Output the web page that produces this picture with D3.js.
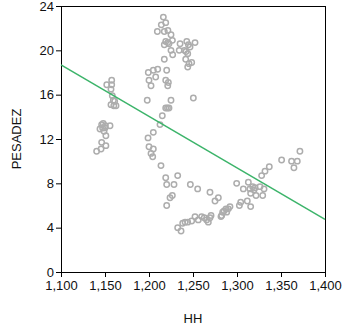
<!DOCTYPE html>
<html><head><meta charset="utf-8">
<script src="https://cdn.jsdelivr.net/npm/d3@7"></script>
<style>body{margin:0;background:#fff}svg{display:block}</style>
</head><body>
<svg id="c" width="345" height="326"></svg>
<script>
const hh = [1157.6,1152,1157.6,1156.8,1158.3,1159.5,1156.8,1160,1162.5,1161,
1146.2,1148,1150.4,1155.7,1144.3,1147.3,1148.9,1151,1146.2,1151,1145.5,1140.5,1150,
1198,1199.2,1204.9,1209.9,1200,1202.3,1207.6,1198.9,1204.9,1200,1204.9,1202.3,1204.2,1213.6,1215.1,1212.5,
1219,1222,1221.3,1220.1,1225,1219,1222.7,1221,1217.4,
1216.3,1214,1219,1209.5,1217.4,1221.5,1225,1226.6,1219,1221.3,1217.4,1222.7,1225,1226.9,1234.3,1235.3,1240.2,1242.9,1244.8,1246.6,1242.1,1244,1252.3,1241.7,1245.5,1244,1248.5,1250.4,
1219,1220.1,1228.4,1232.6,1247,1223.9,1226.5,1220.1,1255.3,1269.3,1275,1278.8,
1232.6,1236.4,1238.3,1241,1244,1248.5,1252.3,1256,1259.8,1262.8,1265.5,1267.4,1269.3,1270.5,1282.6,1283.7,1285.3,1287.5,1290.2,1292,1288.3,1281.8,
1299.6,1307.2,1302.7,1304.2,1311.7,1315.5,1312.9,1314.7,1315.5,1317.8,1320.5,1319.3,1321.6,1326.1,1329.2,1330.7,1328,1331.8,1336.7,1350.7,1362,1364.7,1368.5,1371.5];
const pesadez = [17.3,16.9,16.9,16.5,15.9,15.5,15.1,15.0,15.0,15.4,
13.3,13.4,13.2,13.2,12.9,13.0,12.7,12.3,11.7,11.4,11.1,10.9,13.0,
15.5,18.0,18.2,18.3,17.3,16.8,17.6,12.1,12.6,11.3,11.1,10.7,10.4,9.6,14.1,13.3,
17.3,17.1,16.8,18.2,15.5,14.8,14.8,14.8,19.2,
23.0,22.3,22.5,21.7,21.7,21.8,21.4,20.9,20.8,20.7,20.5,20.6,20.0,19.6,20.0,20.6,20.0,20.8,20.5,20.3,19.9,19.7,20.7,19.2,18.8,18.5,18.9,15.7,
8.5,7.9,7.9,8.7,7.9,6.7,6.9,6.0,7.5,7.2,6.4,6.7,
4.0,3.7,4.4,4.5,4.5,4.6,5.0,4.7,5.0,4.9,4.7,4.5,4.9,5.1,5.1,5.4,5.5,5.7,5.7,5.9,5.4,5.0,
8.0,7.5,6.0,6.3,6.4,5.9,8.1,7.5,7.1,7.7,7.6,7.4,6.9,7.7,6.9,7.5,8.7,9.1,9.5,10.1,10.0,9.4,10.0,10.9];
const fitX = [1100, 1400];
const fitY = [18.68, 4.75];
const xTicks = [1100,1150,1200,1250,1300,1350,1400];
const yTicks = [0,4,8,12,16,20,24];

const svg = d3.select('#c');
const L=61, R=325, T=6, B=272;
const x = d3.scaleLinear().domain([1100,1400]).range([L,R]);
const y = d3.scaleLinear().domain([0,24]).range([B,T]);
const font = 'Liberation Sans, Arial, sans-serif';

svg.append('rect').attr('x',L).attr('y',T).attr('width',R-L).attr('height',B-T)
  .attr('fill','none').attr('stroke','#000').attr('stroke-width',1).attr('shape-rendering','crispEdges');

const fmt = d3.format(',');
const xa = svg.append('g').attr('transform',`translate(0,${B})`)
  .call(d3.axisBottom(x).tickValues(xTicks).tickFormat(fmt).tickSize(5).tickPadding(4));
const ya = svg.append('g').attr('transform',`translate(${L},0)`)
  .call(d3.axisLeft(y).tickValues(yTicks).tickSize(5).tickPadding(2));
[xa,ya].forEach(a=>{
  a.select('.domain').attr('stroke','#000');
  a.selectAll('.tick line').attr('stroke','#000');
  a.selectAll('text').attr('font-family',font).attr('font-size',13).attr('fill','#111');
});

svg.append('g').selectAll('circle').data(hh.map((h,i)=>[h,pesadez[i]])).join('circle')
  .attr('cx',d=>x(d[0])).attr('cy',d=>y(d[1])).attr('r',2.7)
  .attr('fill','none').attr('stroke','#adadad').attr('stroke-width',1.5);

svg.append('line').attr('x1',x(fitX[0])).attr('y1',y(fitY[0])).attr('x2',x(fitX[1])).attr('y2',y(fitY[1]))
  .attr('stroke','#3cb46a').attr('stroke-width',1.5);

svg.append('text').attr('x',(L+R)/2).attr('y',323).attr('text-anchor','middle')
  .attr('font-family',font).attr('font-size',13).attr('fill','#111').text('HH');
svg.append('text').attr('transform',`translate(21,${(T+B)/2}) rotate(-90)`).attr('text-anchor','middle')
  .attr('font-family',font).attr('font-size',13).attr('fill','#111').text('PESADEZ');
</script>
</body></html>
